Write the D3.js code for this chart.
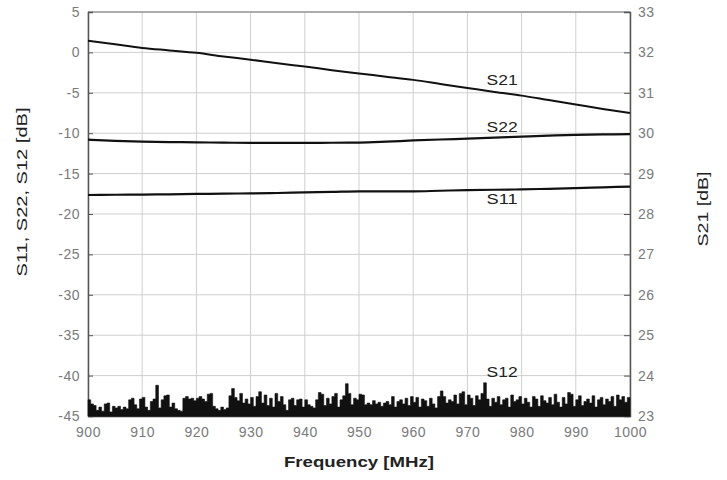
<!DOCTYPE html>
<html>
<head>
<meta charset="utf-8">
<script src="https://cdn.jsdelivr.net/npm/d3@7"></script>
<style>
  body { margin: 0; background: #fff; }
  svg { display: block; font-family: "Liberation Sans", Arial, sans-serif; }
</style>
</head>
<body>
<svg id="chart"></svg>
<script>
// frequencies for the smooth traces (MHz)
const freqs = [900, 905, 910, 915, 920, 925, 930, 935, 940, 945, 950, 955, 960, 965, 970, 975, 980, 985, 990, 995, 1000];

// S21 on right axis, dB
const s21 = [32.29, 32.20, 32.11, 32.05, 31.99, 31.90, 31.82, 31.73, 31.65, 31.56, 31.48, 31.40, 31.32, 31.22, 31.12, 31.02, 30.93, 30.82, 30.71, 30.60, 30.50];
// S22 / S11 on left axis, dB
const s22 = [-10.80, -10.95, -11.05, -11.10, -11.13, -11.17, -11.20, -11.20, -11.20, -11.18, -11.16, -11.05, -10.90, -10.78, -10.67, -10.55, -10.42, -10.30, -10.20, -10.15, -10.12];
const s11 = [-17.65, -17.62, -17.60, -17.56, -17.52, -17.48, -17.45, -17.40, -17.33, -17.27, -17.20, -17.20, -17.20, -17.12, -17.05, -17.00, -16.95, -16.88, -16.80, -16.70, -16.60];

// S12 noise trace, 0.5 MHz steps from 900 to 1000
const s12Start = 900, s12Step = 0.5;
const s12 = [
  -43.0, -43.5, -43.7, -44.3, -43.9, -44.4, -43.5, -43.4, -44.5, -43.8,
  -44.0, -43.8, -44.2, -43.9, -44.1, -43.0, -42.8, -43.6, -44.1, -42.9,
  -42.7, -43.9, -44.3, -43.2, -42.9, -41.2, -44.0, -43.0, -42.5, -42.4,
  -43.9, -43.4, -44.1, -44.3, -44.4, -42.8, -42.6, -42.9, -42.8, -43.1,
  -42.8, -42.6, -42.9, -43.2, -42.3, -42.2, -43.8, -44.1, -44.3, -43.9,
  -44.2, -44.0, -42.5, -41.6, -42.7, -43.1, -42.2, -43.4, -42.9, -43.5,
  -42.7, -43.8, -42.6, -42.0, -43.4, -42.4, -43.7, -42.8, -43.9, -42.2,
  -43.2, -42.6, -43.6, -44.3, -43.0, -42.8, -43.7, -43.0, -42.9, -43.9,
  -43.0, -43.6, -43.8, -44.0, -43.0, -42.1, -42.3, -43.7, -42.8, -43.5,
  -42.6, -42.2, -43.9, -43.0, -42.5, -41.0, -42.2, -43.6, -42.8, -43.0,
  -42.3, -42.4, -43.6, -43.4, -43.6, -43.1, -43.5, -43.3, -43.8, -43.4,
  -43.2, -43.6, -42.6, -43.9, -43.2, -43.0, -43.5, -42.8, -43.7, -42.6,
  -43.3, -42.7, -43.9, -42.9, -43.1, -43.8, -42.8, -43.5, -44.0, -42.6,
  -41.9, -42.6, -43.4, -43.0, -43.2, -42.4, -43.5, -42.2, -42.0, -43.6,
  -42.4, -42.8, -43.7, -42.5, -43.0, -42.2, -40.9, -42.9, -43.8, -42.8,
  -43.3, -42.6, -43.6, -43.0, -42.8, -43.9, -42.4, -43.2, -43.0, -42.6,
  -43.5, -42.8, -43.3, -43.9, -42.6, -42.9, -43.8, -42.5, -43.1, -43.4,
  -42.7, -43.6, -42.3, -43.3, -43.9, -42.7, -43.5, -42.1, -42.3, -43.8,
  -43.0, -42.5, -43.7, -43.2, -42.9, -43.4, -42.5, -43.9, -43.0, -42.7,
  -43.6, -42.9, -43.2, -42.6, -43.8, -42.4, -43.0, -42.6, -43.3, -42.7,
  -43.0
];

const xTicks = [900, 910, 920, 930, 940, 950, 960, 970, 980, 990, 1000];
const leftTicks = [5, 0, -5, -10, -15, -20, -25, -30, -35, -40, -45];
const rightTicks = [33, 32, 31, 30, 29, 28, 27, 26, 25, 24, 23];

const traceLabels = [
  { name: 'S21', f: 976.4, v: 31.32, axis: 'right' },
  { name: 'S22', f: 976.4, v: -9.23, axis: 'left' },
  { name: 'S11', f: 976.4, v: -18.1, axis: 'left' },
  { name: 'S12', f: 976.4, v: -39.5, axis: 'left' }
];

const width = 727, height = 480;
const marginTop = 12, marginRight = 97, marginBottom = 64, marginLeft = 88;

const svg = d3.select('#chart')
  .attr('width', width)
  .attr('height', height);

const x = d3.scaleLinear()
  .domain([900, 1000])
  .range([marginLeft, width - marginRight]);

const yL = d3.scaleLinear()
  .domain([-45, 5])
  .range([height - marginBottom, marginTop]);

const yR = d3.scaleLinear()
  .domain([23, 33])
  .range([height - marginBottom, marginTop]);

// grid
svg.append('g')
  .selectAll('line')
  .data(xTicks)
  .join('line')
  .attr('x1', d => x(d)).attr('x2', d => x(d))
  .attr('y1', marginTop).attr('y2', height - marginBottom)
  .attr('stroke', '#cfcfcf').attr('stroke-width', 1);

svg.append('g')
  .selectAll('line')
  .data(leftTicks)
  .join('line')
  .attr('x1', marginLeft).attr('x2', width - marginRight)
  .attr('y1', d => yL(d)).attr('y2', d => yL(d))
  .attr('stroke', '#cfcfcf').attr('stroke-width', 1);

// top border
svg.append('line')
  .attr('x1', marginLeft).attr('x2', width - marginRight)
  .attr('y1', marginTop).attr('y2', marginTop)
  .attr('stroke', '#9a9a9a').attr('stroke-width', 1.5);

// axes
const tickColor = '#7a7a7a';

const axL = svg.append('g')
  .attr('transform', `translate(${marginLeft},0)`)
  .call(d3.axisRight(yL).tickValues(leftTicks).tickSize(5).tickFormat(''));
axL.select('.domain').attr('stroke', '#555').attr('stroke-width', 1.5);
axL.selectAll('.tick line').attr('stroke', '#555');

svg.append('g')
  .selectAll('text')
  .data(leftTicks)
  .join('text')
  .attr('x', marginLeft - 8)
  .attr('y', d => yL(d))
  .attr('dy', '0.35em')
  .attr('text-anchor', 'end')
  .attr('fill', tickColor)
  .style('font-size', '14px')
  .style('letter-spacing', '0.5px')
  .text(d => d);

const axR = svg.append('g')
  .attr('transform', `translate(${width - marginRight},0)`)
  .call(d3.axisLeft(yR).tickValues(rightTicks).tickSize(6).tickFormat(''));
axR.select('.domain').attr('stroke', '#555').attr('stroke-width', 1.5);
axR.selectAll('.tick line').attr('stroke', '#555');

svg.append('g')
  .selectAll('text')
  .data(rightTicks)
  .join('text')
  .attr('x', width - marginRight + 8)
  .attr('y', d => yR(d))
  .attr('dy', '0.35em')
  .attr('text-anchor', 'start')
  .attr('fill', tickColor)
  .style('font-size', '14px')
  .style('letter-spacing', '0.5px')
  .text(d => d);

const axB = svg.append('g')
  .attr('transform', `translate(0,${height - marginBottom})`)
  .call(d3.axisBottom(x).tickValues(xTicks).tickSize(0).tickPadding(11).tickFormat(d3.format('d')));
axB.select('.domain').attr('stroke', '#333').attr('stroke-width', 1.5);
axB.selectAll('.tick text')
  .attr('fill', tickColor)
  .style('font-family', '"Liberation Sans", Arial, sans-serif')
  .style('font-size', '14px')
  .style('letter-spacing', '0.5px');

// S12 noise, filled from the floor
const s12Data = s12.map((v, i) => [s12Start + i * s12Step, v]);
const area = d3.area()
  .x(d => x(d[0]))
  .y0(yL(-45))
  .y1(d => yL(d[1]))
  .curve(d3.curveStepAfter);
svg.append('path')
  .datum(s12Data)
  .attr('fill', '#111')
  .attr('stroke', '#111')
  .attr('stroke-width', 0.6)
  .attr('d', area);

// smooth traces
const lineL = d3.line()
  .x((d, i) => x(freqs[i]))
  .y(d => yL(d))
  .curve(d3.curveMonotoneX);
const lineR = d3.line()
  .x((d, i) => x(freqs[i]))
  .y(d => yR(d))
  .curve(d3.curveMonotoneX);

svg.append('path').datum(s21)
  .attr('fill', 'none').attr('stroke', '#111').attr('stroke-width', 2)
  .attr('d', lineR);
svg.append('path').datum(s22)
  .attr('fill', 'none').attr('stroke', '#111').attr('stroke-width', 2.2)
  .attr('d', lineL);
svg.append('path').datum(s11)
  .attr('fill', 'none').attr('stroke', '#111').attr('stroke-width', 2.2)
  .attr('d', lineL);

// trace labels
svg.append('g')
  .selectAll('text')
  .data(traceLabels)
  .join('text')
  .attr('x', d => x(d.f))
  .attr('y', d => d.axis === 'right' ? yR(d.v) : yL(d.v))
  .attr('dy', '0.35em')
  .attr('text-anchor', 'middle')
  .attr('textLength', 31)
  .attr('lengthAdjust', 'spacingAndGlyphs')
  .attr('fill', '#222')
  .style('font-size', '15px')
  .text(d => d.name);

// axis titles
svg.append('text')
  .attr('x', (marginLeft + width - marginRight) / 2)
  .attr('y', 467)
  .attr('text-anchor', 'middle')
  .attr('textLength', 150)
  .attr('lengthAdjust', 'spacingAndGlyphs')
  .attr('fill', '#222')
  .style('font-size', '15px')
  .style('font-weight', 'bold')
  .text('Frequency [MHz]');

svg.append('text')
  .attr('transform', 'translate(27,192) rotate(-90)')
  .attr('text-anchor', 'middle')
  .attr('textLength', 169)
  .attr('lengthAdjust', 'spacingAndGlyphs')
  .attr('fill', '#222')
  .style('font-size', '15px')
  .text('S11, S22, S12 [dB]');

svg.append('text')
  .attr('transform', 'translate(708,209) rotate(-90)')
  .attr('text-anchor', 'middle')
  .attr('textLength', 75)
  .attr('lengthAdjust', 'spacingAndGlyphs')
  .attr('fill', '#222')
  .style('font-size', '15px')
  .text('S21 [dB]');
</script>
</body>
</html>
